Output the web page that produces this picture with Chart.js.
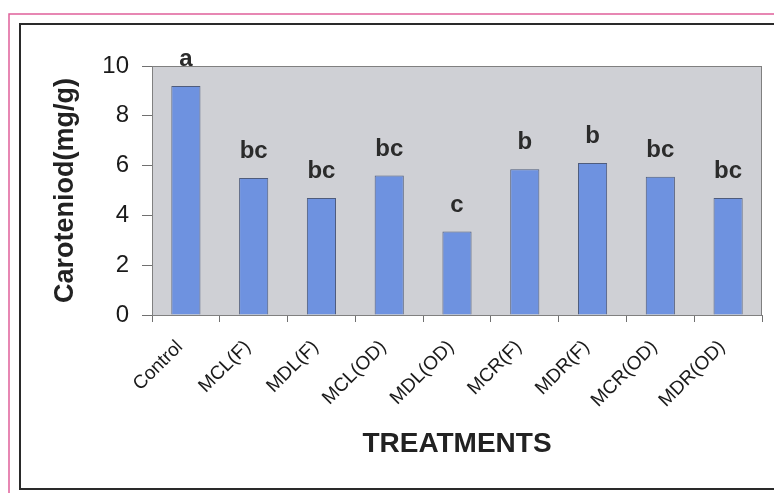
<!DOCTYPE html>
<html>
<head>
<meta charset="utf-8">
<script src="https://cdn.jsdelivr.net/npm/chart.js@4/dist/chart.umd.min.js"></script>
<style>
  html, body { margin: 0; padding: 0; background: #ffffff; }
  #wrap { position: relative; width: 774px; height: 493px; }
</style>
</head>
<body>
<div id="wrap"><canvas id="c" width="774" height="493"></canvas></div>
<script>
// Carotenoid content per treatment, with significance letters
const treatments = ['Control', 'MCL(F)', 'MDL(F)', 'MCL(OD)', 'MDL(OD)', 'MCR(F)', 'MDR(F)', 'MCR(OD)', 'MDR(OD)'];
const carotenoid = [9.2, 5.5, 4.7, 5.6, 3.35, 5.85, 6.1, 5.55, 4.7];
const groupLetters = ['a', 'bc', 'bc', 'bc', 'c', 'b', 'b', 'bc', 'bc'];
const yTicks = [0, 2, 4, 6, 8, 10];

const FONT = '"Liberation Sans", Arial, Helvetica, sans-serif';

// Frame lines, grey plot background and plot border
const framePlugin = {
  id: 'frame',
  beforeDraw(chart) {
    const ctx = chart.ctx;
    const a = chart.chartArea;
    ctx.save();
    ctx.fillStyle = '#ffffff';
    ctx.fillRect(0, 0, chart.width, chart.height);
    // outer pink line
    ctx.strokeStyle = '#e0609a';
    ctx.lineWidth = 1.5;
    ctx.beginPath();
    ctx.moveTo(9, 493); ctx.lineTo(9, 14); ctx.lineTo(774, 14);
    ctx.stroke();
    // inner dark frame
    ctx.strokeStyle = '#2a2a2a';
    ctx.lineWidth = 2;
    ctx.beginPath();
    ctx.moveTo(776, 24); ctx.lineTo(20, 24); ctx.lineTo(20, 489); ctx.lineTo(776, 489);
    ctx.stroke();
    // plot background
    ctx.fillStyle = '#cfd0d5';
    ctx.fillRect(a.left, a.top, a.right - a.left, a.bottom - a.top);
    ctx.restore();
  },
  afterDraw(chart) {
    const ctx = chart.ctx;
    const a = chart.chartArea;
    ctx.save();
    ctx.strokeStyle = '#808080';
    ctx.lineWidth = 1;
    ctx.strokeRect(a.left + 0.5, a.top + 0.5, a.right - a.left - 1, a.bottom - a.top);
    ctx.restore();
  }
};

// Significance letters above each bar
const letterPlugin = {
  id: 'letters',
  afterDatasetsDraw(chart) {
    const ctx = chart.ctx;
    const meta = chart.getDatasetMeta(0);
    ctx.save();
    ctx.font = 'bold 24px ' + FONT;
    ctx.fillStyle = '#2b2b2b';
    ctx.textAlign = 'center';
    ctx.textBaseline = 'alphabetic';
    meta.data.forEach((bar, i) => {
      ctx.fillText(groupLetters[i], bar.x, bar.y - 20);
    });
    ctx.restore();
  }
};

new Chart(document.getElementById('c'), {
  type: 'bar',
  data: {
    labels: treatments,
    datasets: [{
      data: carotenoid,
      backgroundColor: '#6e92e0',
      borderColor: '#4f5c7c',
      borderWidth: 1,
      categoryPercentage: 1.0,
      barPercentage: 0.43
    }]
  },
  options: {
    responsive: false,
    animation: false,
    layout: { padding: { left: 0, top: 66, right: 12, bottom: 0 } },
    plugins: {
      legend: { display: false },
      tooltip: { enabled: false }
    },
    scales: {
      x: {
        afterFit(scale) { scale.height = 178; },
        grid: { drawOnChartArea: false, offset: true, tickLength: 7, color: '#707070' },
        border: { display: true, color: '#808080' },
        ticks: {
          minRotation: 45, maxRotation: 45, autoSkip: false, padding: 14, labelOffset: -6,
          color: '#1a1a1a',
          font: { family: FONT, size: 19 }
        },
        title: {
          display: true, text: 'TREATMENTS', color: '#222222',
          font: { family: FONT, size: 28, weight: 'bold' },
          padding: { top: 0, bottom: 32 }
        }
      },
      y: {
        min: 0, max: 10,
        afterFit(scale) { scale.width = 152; },
        afterBuildTicks(scale) { scale.ticks = yTicks.map(v => ({ value: v })); },
        grid: { drawOnChartArea: false, tickLength: 10, color: '#707070' },
        border: { display: true, color: '#808080' },
        ticks: {
          padding: 13, color: '#1a1a1a',
          font: { family: FONT, size: 24 }
        },
        title: {
          display: true, text: 'Caroteniod(mg/g)', color: '#222222',
          font: { family: FONT, size: 27, weight: 'bold' },
          padding: { top: 49, bottom: 0 }
        }
      }
    }
  },
  plugins: [framePlugin, letterPlugin]
});
</script>
</body>
</html>
